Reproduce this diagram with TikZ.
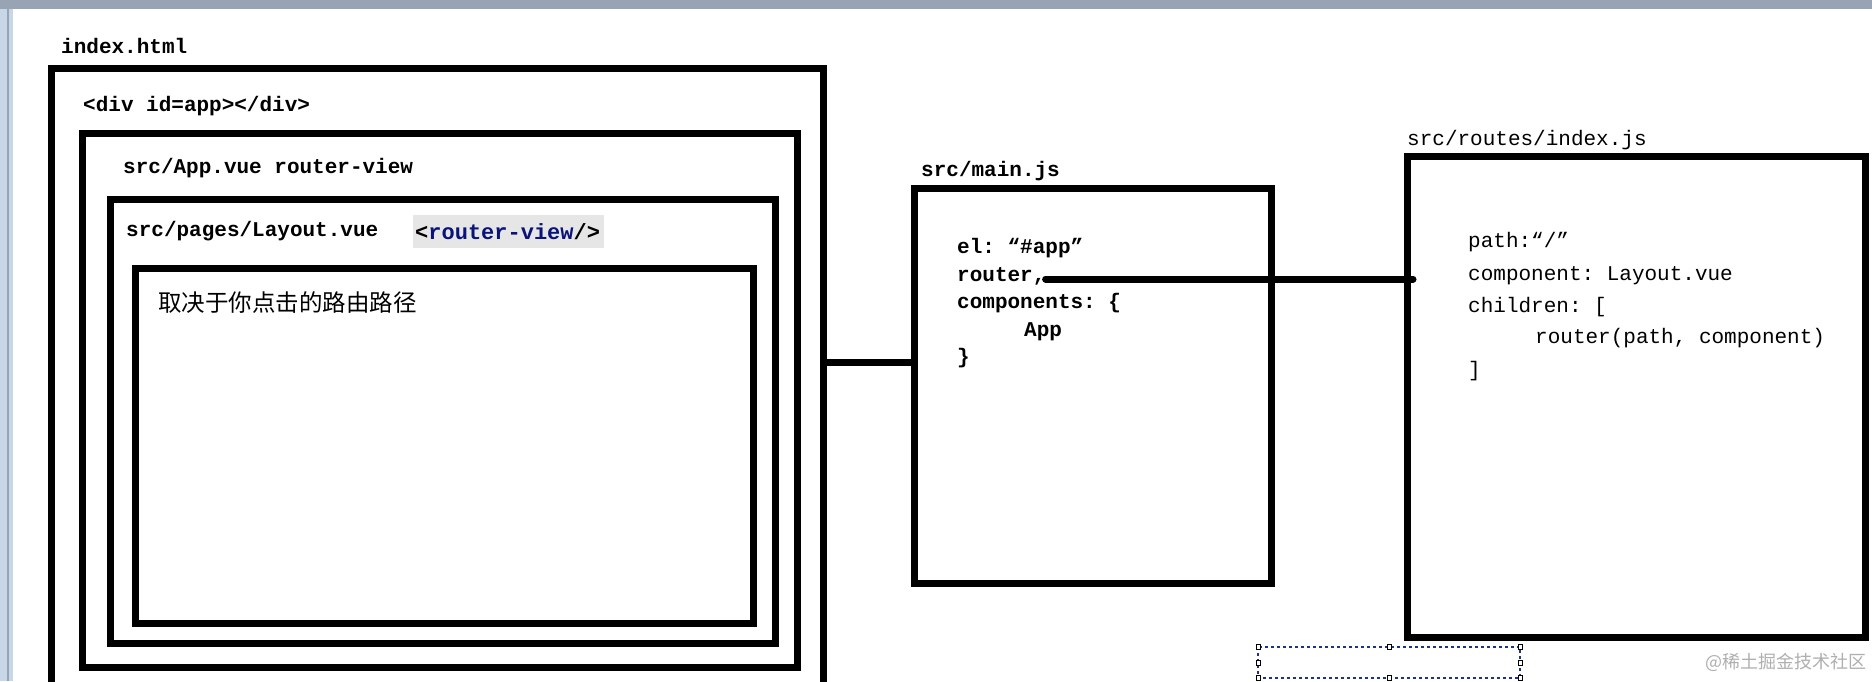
\documentclass[tikz,border=0pt]{standalone}
\usepackage{fontspec}
\setmonofont{Liberation Mono}
\newfontfamily\cjk{Noto Sans CJK SC}
\definecolor{navyc}{RGB}{10,20,120}
\definecolor{hlc}{RGB}{230,230,230}
\definecolor{selc}{RGB}{30,50,140}
\definecolor{barc}{RGB}{152,164,180}
\definecolor{edgec}{RGB}{200,215,232}
\definecolor{wmc}{RGB}{175,175,175}
\begin{document}
\begin{tikzpicture}[x=1pt,y=-1pt,
  box/.style={draw=black, line width=7pt, inner sep=0pt, outer sep=0pt, anchor=north west},
  lbl/.style={anchor=base west, inner sep=0pt, font=\fontsize{21}{21}\selectfont\ttfamily\bfseries},
  code/.style={anchor=base west, inner sep=0pt, font=\fontsize{21}{21}\selectfont\ttfamily},
  conn/.style={draw=black, line width=7pt},
  handle/.style={draw=black, fill=white, line width=0.8pt}]
\useasboundingbox (0,0) rectangle (1872,681);
\clip (0,0) rectangle (1872,681);
\fill[white] (0,0) rectangle (1872,681);
% window frame
\fill[barc] (0,0) rectangle (1872,9);
\fill[edgec] (0,9) rectangle (13,681);
\draw[barc, line width=2pt] (8,9) -- (8,681);
% boxes
\node[box, minimum width=772, minimum height=650] (idx) at (51,68) {};
\node[box, minimum width=715, minimum height=534] (app) at (82,133) {};
\node[box, minimum width=665, minimum height=444] (lay) at (110,199) {};
\node[box, minimum width=618, minimum height=355] (cnt) at (135,268) {};
\node[box, minimum width=357, minimum height=395] (main) at (914,188) {};
\node[box, minimum width=458, minimum height=481] (rts) at (1407,156) {};
% left texts
\node[lbl] (tidx) at (61,53) {index.html};
\node[lbl] (tdiv) at (83,111) {<div id=app></div>};
\node[lbl] (tapp) at (123,173) {src/App.vue router-view};
\node[lbl] (tlay) at (126,236) {src/pages/Layout.vue};
\fill[hlc] (413,215) rectangle (604,248);
\node[lbl, font=\fontsize{22}{22}\selectfont\ttfamily\bfseries] (trv) at (415,239) {<\textcolor{navyc}{router-view}/>};
\node[anchor=west, inner sep=0pt, font=\cjk\fontsize{23.5}{23.5}\selectfont] (tcn) at (158,303) {取决于你点击的路由路径};
% main.js
\node[lbl] (tmain) at (921,176) {src/main.js};
\node[lbl] (mel) at (957,253) {el: “\#app”};
\node[lbl] (mrt) at (957,281) {router,};
\node[lbl] (mcp) at (957,308) {components: \{};
\node[lbl] (map) at (1024,336) {App};
\node[lbl] (mcl) at (957,363) {\}};
% routes
\node[code] (trts) at (1407,145) {src/routes/index.js};
\node[code] (rp) at (1468,247) {path:“/”};
\node[code] (rc) at (1468,280) {component: Layout.vue};
\node[code] (rch) at (1468,312) {children: [};
\node[code] (rr) at (1535,343) {router(path, component)};
\node[code] (rb) at (1468,376) {]};
% connectors
\coordinate (c1) at (0,362);
\coordinate (c2) at (0,279);
\draw[conn] (idx.east |- c1) -- (main.west |- c1);
\draw[conn, line cap=round] (mrt.east |- c2) -- ([xshift=6pt]rts.west |- c2);
% selection frame
\draw[selc, dashed, line width=1.5pt] (1258,647) rectangle (1520,678);
\foreach \hx/\hy in {1258/647,1389/647,1520/647,1258/663,1520/663,1258/678,1389/678,1520/678}
  \draw[handle] (\hx-2,\hy-2.5) rectangle (\hx+2,\hy+2.5);
% watermark
\node[anchor=west, inner sep=0pt, text=wmc, font=\cjk\fontsize{18}{18}\selectfont] (wm) at (1705,662) {@稀土掘金技术社区};
\end{tikzpicture}
\end{document}
